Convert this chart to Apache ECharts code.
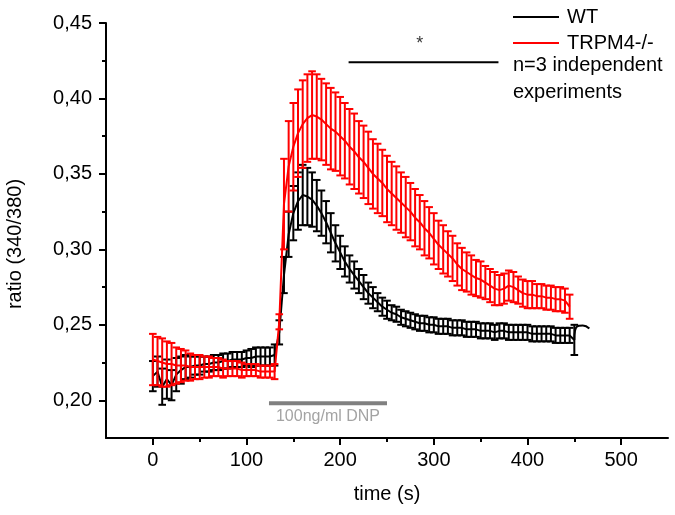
<!DOCTYPE html>
<html><head><meta charset="utf-8">
<script src="https://cdn.jsdelivr.net/npm/echarts@6/dist/echarts.min.js"></script>
<style>html,body{margin:0;padding:0;background:#fff}#c{width:675px;height:515px}</style>
</head><body><div id="c"></div>
<script>
const wtTime = [0,5,10,15,20,25,30,35,40,45,50,55,60,65,70,75,80,85,90,95,100,105,110,115,120,125,130,
135,140,145,150,155,160,165,170,175,180,185,190,195,200,205,210,215,220,225,230,235,240,245,250,255,260,265,270,275,280,285,290,295,300,
305,310,315,320,325,330,335,340,345,350,355,360,365,370,375,380,385,390,395,400,405,410,415,420,425,430,435,440,445,450];
const wtMean = [0.216,0.219,0.209,0.214,0.210,0.217,0.220,0.222,0.222,0.223,0.223,0.224,0.224,0.225,0.225,0.226,0.226,0.227,0.227,0.227,0.228,0.228,0.229,0.229,0.229,0.229,0.230,
0.245,0.283,0.310,0.324,0.332,0.336,0.335,0.333,0.329,0.324,0.318,0.311,0.304,0.298,0.292,0.287,0.283,0.279,0.275,0.271,0.268,0.265,0.262,0.260,0.258,0.257,0.255,0.254,0.253,0.252,0.251,0.251,0.250,0.250,
0.249,0.249,0.249,0.248,0.248,0.248,0.247,0.247,0.247,0.246,0.246,0.246,0.245,0.246,0.246,0.245,0.245,0.245,0.245,0.245,0.244,0.244,0.244,0.244,0.244,0.243,0.243,0.243,0.243,0.240];
const wtErr = [0.010,0.010,0.012,0.013,0.010,0.011,0.009,0.008,0.007,0.006,0.006,0.005,0.005,0.005,0.005,0.005,0.005,0.005,0.005,0.005,0.005,0.006,0.006,0.006,0.006,0.006,0.007,
0.008,0.012,0.015,0.018,0.019,0.020,0.019,0.018,0.017,0.015,0.014,0.013,0.012,0.011,0.010,0.009,0.009,0.008,0.008,0.007,0.007,0.006,0.006,0.006,0.005,0.005,0.005,0.005,0.005,0.005,0.005,0.005,0.005,0.005,
0.005,0.005,0.005,0.005,0.005,0.005,0.005,0.005,0.005,0.005,0.005,0.005,0.005,0.005,0.005,0.005,0.005,0.005,0.005,0.005,0.005,0.005,0.005,0.005,0.005,0.005,0.005,0.005,0.005,0.010];
const wtTail = [[450,0.240],[453,0.249],[459,0.2495],[466,0.2475]];

const koTime = [0,5,10,15,20,25,30,35,40,45,50,55,60,65,70,75,80,85,90,95,100,105,110,115,120,125,130,
135,140,145,150,155,160,165,170,175,180,185,190,195,200,205,210,215,220,225,230,235,240,245,250,255,260,265,270,275,280,285,290,295,300,
305,310,315,320,325,330,335,340,345,350,355,360,365,370,375,380,385,390,395,400,405,410,415,420,425,430,435,440,445];
const koMean = [0.227,0.226,0.225,0.224,0.224,0.223,0.223,0.223,0.222,0.222,0.222,0.222,0.222,0.222,0.222,0.221,0.221,0.221,0.221,0.220,0.220,0.220,0.220,0.219,0.219,0.219,0.219,
0.252,0.330,0.355,0.368,0.377,0.383,0.387,0.389,0.388,0.386,0.383,0.380,0.378,0.375,0.372,0.368,0.365,0.361,0.358,0.354,0.350,0.347,0.344,0.340,0.337,0.334,0.331,0.328,0.325,0.321,0.318,0.314,0.311,0.307,
0.303,0.300,0.297,0.294,0.290,0.287,0.285,0.283,0.281,0.280,0.278,0.276,0.274,0.273,0.274,0.276,0.275,0.273,0.271,0.270,0.270,0.269,0.269,0.268,0.268,0.267,0.267,0.266,0.262];
const koErr = [0.017,0.016,0.016,0.015,0.014,0.012,0.011,0.010,0.009,0.008,0.008,0.007,0.007,0.006,0.006,0.006,0.005,0.005,0.005,0.005,0.004,0.004,0.004,0.004,0.004,0.004,0.005,
0.005,0.030,0.030,0.029,0.029,0.029,0.029,0.029,0.028,0.027,0.027,0.027,0.026,0.026,0.025,0.025,0.025,0.024,0.024,0.024,0.023,0.023,0.022,0.022,0.021,0.021,0.020,0.020,0.019,0.019,0.018,0.018,0.017,0.017,
0.016,0.016,0.015,0.015,0.014,0.014,0.013,0.013,0.012,0.012,0.011,0.011,0.011,0.010,0.010,0.010,0.010,0.009,0.009,0.009,0.009,0.008,0.008,0.008,0.008,0.008,0.008,0.008,0.008];

const xTickLabels = [0,100,200,300,400,500];
const xMinorTicks = [50,150,250,350,450];
const yTickLabels = [0.20,0.25,0.30,0.35,0.40,0.45];
const yMinorTicks = [0.225,0.275,0.325,0.375,0.425];
const sigBar = [[209,0.424],[369,0.424]];
const dnpBar = [[124,0.198],[250,0.198]];
const sigText = [[285,0.436]];
const dnpText = [[187,0.1895]];

const FONT = 'Liberation Sans, Arial, sans-serif';
const chart = echarts.init(document.getElementById('c'));

function errSeries(name, t, m, e, color, z){
  return {type:'custom', name:name, z:z, silent:true, animation:false,
    data: t.map((x,i)=>[x, m[i]-e[i], m[i]+e[i]]),
    encode:{x:0, y:[1,2]},
    renderItem: function(params, api){
      const lo = api.coord([api.value(0), api.value(1)]);
      const hi = api.coord([api.value(0), api.value(2)]);
      const hw = 3.8, st = {stroke:color, lineWidth:2};
      return {type:'group', children:[
        {type:'line', shape:{x1:lo[0],y1:lo[1],x2:hi[0],y2:hi[1]}, style:st},
        {type:'line', shape:{x1:hi[0]-hw,y1:hi[1],x2:hi[0]+hw,y2:hi[1]}, style:st},
        {type:'line', shape:{x1:lo[0]-hw,y1:lo[1],x2:lo[0]+hw,y2:lo[1]}, style:st}
      ]};
    }};
}

const option = {
  animation:false,
  textStyle:{fontFamily:FONT},
  grid:{left:106, right:7, top:23, bottom:77, containLabel:false},
  legend:{data:['WT','TRPM4-/-'], orient:'vertical', left:508, top:2, icon:'rect',
    itemWidth:46, itemHeight:2, itemGap:6,
    textStyle:{fontSize:20, color:'#000', fontFamily:FONT, padding:[0,0,0,3]}},
  xAxis:[
    {type:'value', min:-50, max:550, position:'bottom',
     axisLine:{onZero:false, lineStyle:{color:'#000', width:2}}, splitLine:{show:false},
     axisTick:{customValues:xTickLabels, length:7, lineStyle:{color:'#000', width:2}},
     axisLabel:{customValues:xTickLabels, fontSize:20, color:'#000', margin:12, fontFamily:FONT},
     name:'time (s)', nameLocation:'middle', nameGap:46,
     nameTextStyle:{fontSize:20, color:'#000', fontFamily:FONT}},
    {type:'value', min:-50, max:550, position:'bottom',
     axisLine:{show:false, onZero:false}, splitLine:{show:false},
     axisTick:{customValues:xMinorTicks, length:4, lineStyle:{color:'#000', width:2}},
     axisLabel:{show:false}}
  ],
  yAxis:[
    {type:'value', min:0.175, max:0.45, position:'left',
     axisLine:{show:true, onZero:false, lineStyle:{color:'#000', width:2}}, splitLine:{show:false},
     axisTick:{show:true, customValues:yTickLabels, length:7, lineStyle:{color:'#000', width:2}},
     axisLabel:{customValues:yTickLabels, fontSize:20, color:'#000', margin:14, fontFamily:FONT,
       formatter:function(v){return v.toFixed(2).replace('.',',');}}},
    {type:'value', min:0.175, max:0.45, position:'left',
     axisLine:{show:false, onZero:false}, splitLine:{show:false},
     axisTick:{show:true, customValues:yMinorTicks, length:4, lineStyle:{color:'#000', width:2}},
     axisLabel:{show:false}}
  ],
  graphic:[
    {type:'text', x:15, y:244, rotation:Math.PI/2,
     style:{text:'ratio (340/380)', fontSize:20, fill:'#000', fontFamily:FONT, align:'center', verticalAlign:'middle'}},
    {type:'text', left:513, top:52,
     style:{text:'n=3 independent\nexperiments', fontSize:20, lineHeight:27, fill:'#000', fontFamily:FONT}}
  ],
  series:[
    errSeries('WT err', wtTime, wtMean, wtErr, '#000', 2),
    {type:'line', name:'WT', data:wtTime.map((x,i)=>[x,wtMean[i]]), showSymbol:false, symbol:'none',
     lineStyle:{color:'#000', width:2}, itemStyle:{color:'#000'}, z:3},
    {type:'line', name:'WT tail', data:wtTail, showSymbol:false, symbol:'none', smooth:true,
     lineStyle:{color:'#000', width:2}, z:3},
    errSeries('TRPM4 err', koTime, koMean, koErr, '#ff0000', 4),
    {type:'line', name:'TRPM4-/-', data:koTime.map((x,i)=>[x,koMean[i]]), showSymbol:false, symbol:'none',
     lineStyle:{color:'#ff0000', width:2}, itemStyle:{color:'#ff0000'}, z:5},
    {type:'line', name:'sig', data:sigBar, showSymbol:false, symbol:'none',
     lineStyle:{color:'#000', width:2}, z:5},
    {type:'line', name:'dnp', data:dnpBar, showSymbol:false, symbol:'none',
     lineStyle:{color:'#808080', width:4}, z:5},
    {type:'scatter', name:'sigtext', data:sigText, symbolSize:0, silent:true,
     label:{show:true, position:'inside', formatter:'*', fontSize:18, color:'#000', fontFamily:FONT}},
    {type:'scatter', name:'dnptext', data:dnpText, symbolSize:0, silent:true,
     label:{show:true, position:'inside', formatter:'100ng/ml DNP', fontSize:16, color:'#8c8c8c', fontFamily:FONT}}
  ]
};
chart.setOption(option);
</script></body></html>
